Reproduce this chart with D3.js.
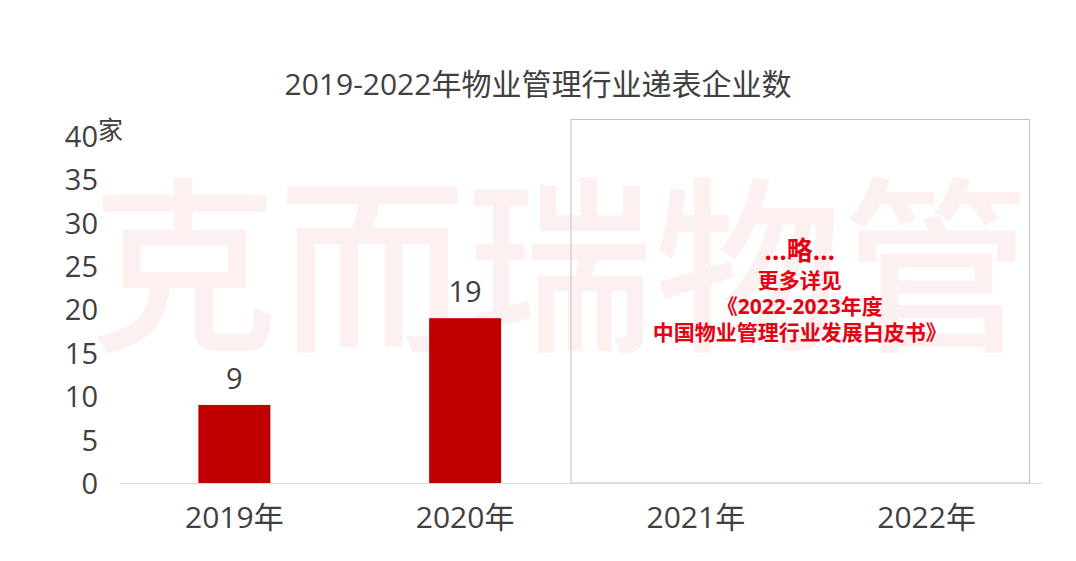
<!DOCTYPE html>
<html>
<head>
<meta charset="utf-8">
<script src="https://cdn.jsdelivr.net/npm/d3@7"></script>
<style>
  html, body { margin: 0; padding: 0; background: #fff; }
  svg { display: block; font-family: "Open Sans", "Noto Sans CJK SC", sans-serif; }
</style>
</head>
<body>
<svg id="chart" width="1076" height="561"></svg>
<script>
// Chart data
const title = "2019-2022年物业管理行业递表企业数";
const categories = ["2019年", "2020年", "2021年", "2022年"];
const values = [9, 19, null, null];
const yTicks = [0, 5, 10, 15, 20, 25, 30, 35, 40];
const unitLabel = "家";
const noteLines = ["…略…", "更多详见", "《2022-2023年度", "中国物业管理行业发展白皮书》"];
const watermark = "克而瑞物管";

const FONT = "'Open Sans', 'Noto Sans CJK SC', sans-serif";
const svg = d3.select("#chart");
const plot = { left: 119, right: 1042, top: 136, bottom: 483 };

const x = d3.scaleBand().domain(categories).range([plot.left, plot.right]).paddingInner(0.688).paddingOuter(0.344);
const y = d3.scaleLinear().domain([0, 40]).range([plot.bottom, plot.top]);

// watermark behind everything
svg.append("text")
  .attr("x", 560).attr("y", 254)
  .attr("text-anchor", "middle").attr("dominant-baseline", "central")
  .attr("font-family", "'Noto Sans CJK SC', sans-serif")
  .attr("font-size", 188).attr("font-weight", 500)
  .attr("fill", "#fcf0f0")
  .attr("textLength", 940).attr("lengthAdjust", "spacing")
  .text(watermark);

// title
svg.append("text")
  .attr("x", 538).attr("y", 95)
  .attr("text-anchor", "middle")
  .attr("font-size", 30).attr("fill", "#404040")
  .text(title);

// y axis labels (no line)
const yAxis = d3.axisLeft(y).tickValues(yTicks).tickSize(0).tickPadding(0);
const gy = svg.append("g").attr("transform", `translate(${plot.left - 21},0)`).call(yAxis);
gy.select(".domain").remove();
gy.selectAll("text").attr("font-size", 29).attr("fill", "#404040")
  .attr("font-family", FONT).attr("dy", "0.36em");

// unit label next to top tick
svg.append("text")
  .attr("x", 98).attr("y", y(40) + 3)
  .attr("font-size", 25).attr("fill", "#404040")
  .attr("font-family", "'Noto Sans CJK SC', sans-serif")
  .text(unitLabel);

// placeholder box for the omitted years
const boxLeft = x("2021年") - x.step() * x.paddingInner() / 2 - 10;
const boxRight = x("2022年") + x.bandwidth() + x.step() * x.paddingInner() / 2 - 13;
svg.append("rect")
  .attr("x", boxLeft + 0.5).attr("y", 119.5)
  .attr("width", boxRight - boxLeft).attr("height", plot.bottom - 119.5)
  .attr("fill", "none").attr("stroke", "#bfbfbf").attr("stroke-width", 1);

// x axis
const xAxis = d3.axisBottom(x).tickSize(0).tickPadding(24);
const gx = svg.append("g").attr("transform", `translate(0,${plot.bottom})`).call(xAxis);
gx.select(".domain").attr("stroke", "#d9d9d9").attr("stroke-width", 1);
gx.selectAll("text").attr("font-size", 30).attr("fill", "#404040")
  .attr("font-family", FONT);

// bars
const data = categories.map((c, i) => ({ c, v: values[i] })).filter(d => d.v != null);
svg.append("g").selectAll("rect").data(data).join("rect")
  .attr("x", d => x(d.c)).attr("width", x.bandwidth())
  .attr("y", d => y(d.v)).attr("height", d => y(0) - y(d.v))
  .attr("fill", "#c00000");

// value labels
svg.append("g").selectAll("text").data(data).join("text")
  .attr("x", d => x(d.c) + x.bandwidth() / 2)
  .attr("y", d => y(d.v) - 16)
  .attr("text-anchor", "middle")
  .attr("font-size", 29).attr("fill", "#404040")
  .text(d => d.v);

// note inside box
const cx = (boxLeft + boxRight) / 2;
const noteY = [260, 288, 314, 340];
const noteSize = [26, 21, 21, 21];
svg.append("g").selectAll("text").data(noteLines).join("text")
  .attr("x", cx).attr("y", (d, i) => noteY[i])
  .attr("text-anchor", "middle")
  .attr("font-size", (d, i) => noteSize[i]).attr("font-weight", 700)
  .attr("fill", "#e60012")
  .text(d => d);
</script>
</body>
</html>
